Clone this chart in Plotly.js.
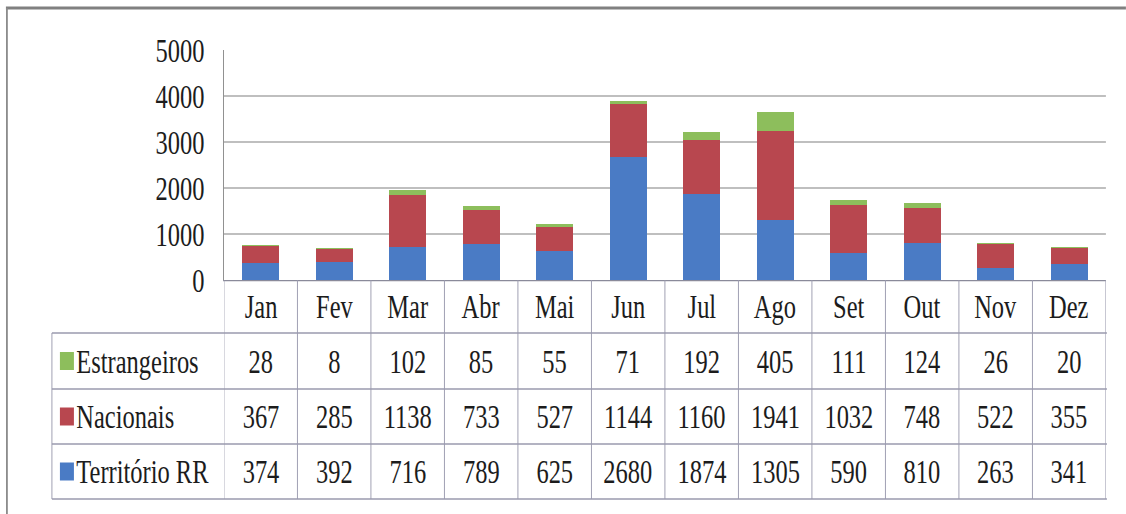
<!DOCTYPE html>
<html>
<head>
<meta charset="utf-8">
<script src="https://cdn.plot.ly/plotly-3.0.1.min.js"></script>
<style>
html, body { margin:0; padding:0; overflow:hidden; width:1126px; height:514px; background:#fff; }
#chart { width:1564px; height:514px; transform:scaleX(0.72); transform-origin:0 0; }
</style>
</head>
<body>
<div id="chart"></div>
<script>
const months = ["Jan","Fev","Mar","Abr","Mai","Jun","Jul","Ago","Set","Out","Nov","Dez"];
const seriesNames = ["Estrangeiros","Nacionais","Território RR"];
const estrangeiros = [28,8,102,85,55,71,192,405,111,124,26,20];
const nacionais = [367,285,1138,733,527,1144,1160,1941,1032,748,522,355];
const territorioRR = [374,392,716,789,625,2680,1874,1305,590,810,263,341];
const yTicks = [0,1000,2000,3000,4000,5000];
const colors = {"Estrangeiros":"#8DBE5C","Nacionais":"#B8474F","Território RR":"#4A7BC5"};

const S = 0.72, W = 1564, H = 514;
const L = 224 / S, R = W - 1106 / S, T = 50, B = H - 280;
const PW = W - L - R, PH = H - T - B;
const ax = a => (a / S - L) / PW;      // actual x pixel -> paper x
const ay = a => (H - B - a) / PH;      // actual y pixel -> paper y

const FONT = "Times New Roman, Liberation Serif, serif";
const TXT = "#1c1c1c";

const traces = [
  {name:"Território RR", x:months, y:territorioRR, type:"bar", marker:{color:colors["Território RR"]}},
  {name:"Nacionais", x:months, y:nacionais, type:"bar", marker:{color:colors["Nacionais"]}},
  {name:"Estrangeiros", x:months, y:estrangeiros, type:"bar", marker:{color:colors["Estrangeiros"]}}
];

const tableRows = [
  {name:"Estrangeiros", vals:estrangeiros, top:333, bot:389},
  {name:"Nacionais", vals:nacionais, top:389, bot:444},
  {name:"Território RR", vals:territorioRR, top:444, bot:499}
];

const lineC = "#9a9aae";
const shapes = [];
const annotations = [];

months.forEach((m,i) => {
  annotations.push({xref:"x", yref:"paper", x:m, y:ay(306), text:m, showarrow:false,
    xanchor:"center", yanchor:"middle", font:{family:FONT, size:34, color:TXT}});
});
tableRows.forEach(r => {
  const yc = ay((r.top + r.bot) / 2);
  annotations.push({xref:"paper", yref:"paper", x:ax(75), y:yc, text:r.name, showarrow:false,
    xanchor:"left", yanchor:"middle", font:{family:FONT, size:34, color:TXT}});
  shapes.push({type:"rect", xref:"paper", yref:"paper", x0:ax(60), x1:ax(74),
    y0:yc - 9/PH, y1:yc + 9/PH, fillcolor:colors[r.name], line:{width:0}});
  r.vals.forEach((v,i) => {
    annotations.push({xref:"x", yref:"paper", x:months[i], y:yc, text:String(v), showarrow:false,
      xanchor:"center", yanchor:"middle", font:{family:FONT, size:34, color:TXT}});
  });
  shapes.push({type:"line", xref:"paper", yref:"paper", x0:ax(52), x1:ax(1107), y0:ay(r.top), y1:ay(r.top), line:{color:lineC, width:1.3}});
});
shapes.push({type:"line", xref:"paper", yref:"paper", x0:ax(52), x1:ax(1107), y0:ay(499), y1:ay(499), line:{color:lineC, width:1.3}});
shapes.push({type:"line", xref:"paper", yref:"paper", x0:ax(52), x1:ax(52), y0:ay(333), y1:ay(499), line:{color:lineC, width:1.3}});
for (let i = 0; i <= months.length; i++) {
  shapes.push({type:"line", xref:"x", yref:"paper", x0:i-0.5, x1:i-0.5, y0:ay(280), y1:ay(499), line:{color:lineC, width:1.3}});
}
shapes.push({type:"line", xref:"paper", yref:"paper", x0:ax(6), x1:ax(1126), y0:ay(8), y1:ay(8), line:{color:"#808080", width:3}});
shapes.push({type:"line", xref:"paper", yref:"paper", x0:ax(7), x1:ax(7), y0:ay(8), y1:ay(514), line:{color:"#8a8a8a", width:2.5}});

const layout = {
  width:W, height:H,
  margin:{l:L, r:R, t:T, b:B, pad:0},
  paper_bgcolor:"#fff", plot_bgcolor:"#fff",
  font:{family:FONT},
  barmode:"stack", bargap:0.5,
  showlegend:false,
  xaxis:{type:"category", range:[-0.5, 11.5], showticklabels:false, ticks:"", showgrid:false,
    showline:true, linecolor:"#8a8a9a", linewidth:1.3, zeroline:false, fixedrange:true},
  yaxis:{range:[0,5000], tickvals:yTicks, ticktext:yTicks.map(String), ticks:"",
    showgrid:true, gridcolor:"#808080", gridwidth:1.2, showline:true, linecolor:"#808080", linewidth:1.2,
    zeroline:false, ticklabelstandoff:19, tickfont:{family:FONT, size:34, color:TXT}, fixedrange:true},
  shapes:shapes,
  annotations:annotations
};

Plotly.newPlot("chart", traces, layout, {staticPlot:true, displayModeBar:false, responsive:false});
</script>
</body>
</html>
